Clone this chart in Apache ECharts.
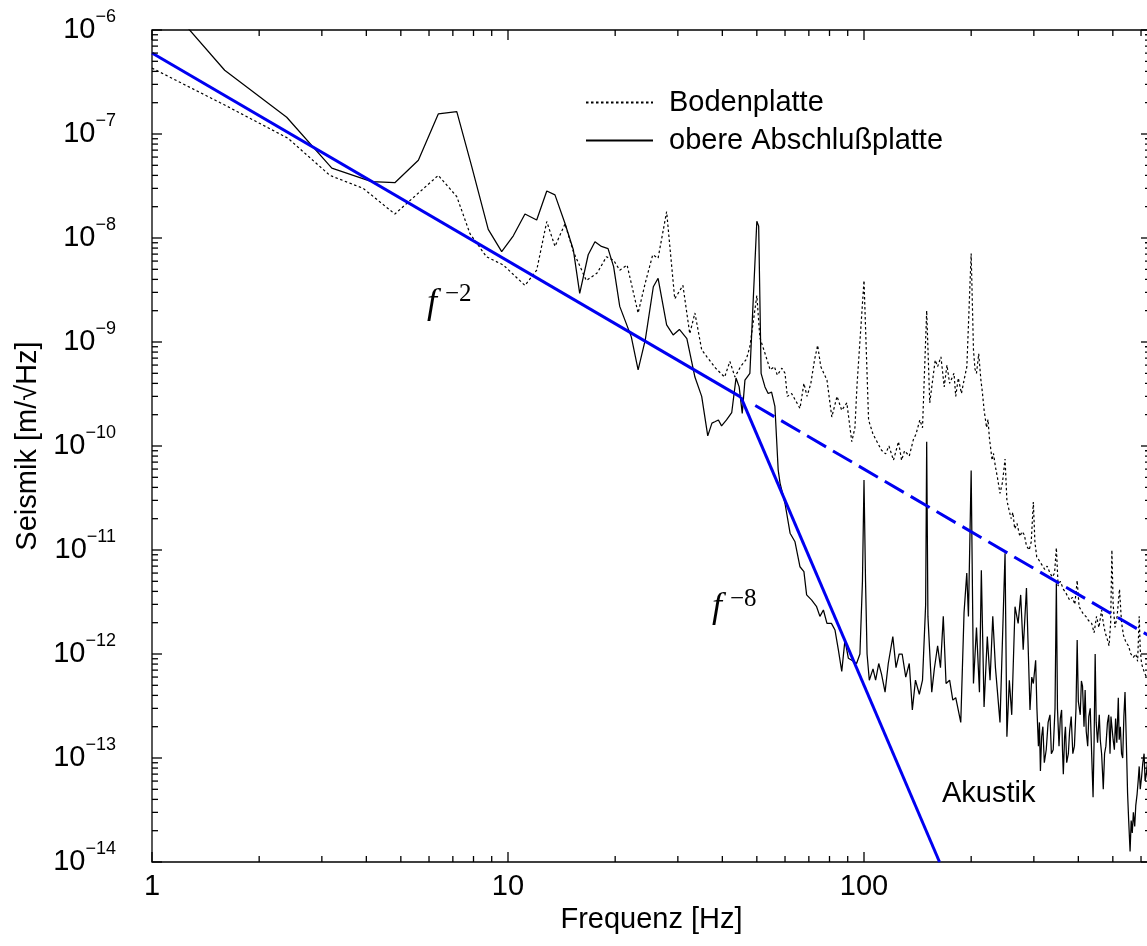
<!DOCTYPE html>
<html>
<head>
<meta charset="utf-8">
<script src="https://cdn.jsdelivr.net/npm/echarts@6/dist/echarts.min.js"></script>
<style>
  html, body { margin: 0; padding: 0; background: #fff; }
  #chart { width: 1147px; height: 946px; }
</style>
</head>
<body>
<div id="chart"></div>
<script>
// Seismic spectra: base plate (dotted) and upper end plate (solid), in m/sqrt(Hz)
const bodenFreq = [1.0, 1.6, 2.41, 3.16, 3.92, 4.81, 6.37, 7.18, 7.82, 8.7, 9.7, 11.16, 12.04, 12.85, 13.55, 14.46,
  15.26, 16.6, 17.8, 18.9, 19.8, 20.6, 21.6, 23.2, 24.3, 25.5, 26.4, 27.9, 29.4, 31.0, 32.4, 33.5, 35.0, 36.2,
  38.3, 40.6, 42.0, 43.4, 45.0, 46.7, 47.8, 50.0, 51.0, 52.7, 54.5, 56.0, 57.1, 58.8, 60.0, 60.9, 62.6, 66.1,
  67.8, 69.2, 70.9, 72.6, 74.1, 75.6, 78.7, 81.2, 84.0, 86.6, 89.5, 92.4, 94.3, 95.6, 100.0, 103.0, 106.0,
  112.0, 115.0, 117.5, 121.0, 125.0, 127.5, 130.0, 134.0, 137.6, 140.0, 143.5, 146.0, 150.0, 153.0, 158.5,
  161.0, 164.5, 168.0, 171.0, 174.0, 179.0, 181.0, 184.0, 187.8, 191.0, 194.5, 200.0, 203.0, 205.0, 207.0,
  210.0, 213.0, 215.0, 217.5, 221.0, 223.0, 225.0, 229.0, 231.0, 234.0, 237.0, 241.0, 245.0, 249.0, 252.0,
  255.0, 259.0, 262.0, 265.0, 269.0, 274.0, 278.0, 282.0, 286.0, 291.0, 295.0, 299.0, 302.0, 305.6, 310.0,
  316.0, 322.0, 327.0, 333.0, 338.0, 343.0, 347.0, 351.0, 356.0, 363.0, 370.0, 378.0, 385.0, 391.0, 397.0,
  402.0, 408.0, 414.0, 420.0, 427.0, 436.0, 443.0, 450.0, 457.0, 465.0, 470.0, 476.0, 482.0, 488.0, 493.0,
  497.0, 501.0, 507.0, 514.0, 522.0, 529.0, 536.0, 544.0, 553.0, 562.0, 571.0, 580.0, 587.0, 593.0, 597.0,
  602.0, 610.0, 621.0, 630.0, 640.0];
const bodenVal = [4.3e-7, 1.9e-7, 9.1e-8, 4.0e-8, 3.0e-8, 1.7e-8, 4.0e-8, 2.5e-8, 1.1e-8, 6.6e-9, 5.5e-9, 3.5e-9,
  4.9e-9, 1.44e-8, 8.3e-9, 1.37e-8, 7.4e-9, 3.9e-9, 4.6e-9, 6.6e-9, 6.1e-9, 4.9e-9, 5.5e-9, 1.9e-9, 3.7e-9,
  6.9e-9, 6.4e-9, 1.79e-8, 2.6e-9, 3.5e-9, 1.2e-9, 1.9e-9, 8.4e-10, 7.2e-10, 5.6e-10, 4.6e-10, 6.5e-10,
  4.6e-10, 5.8e-10, 6.8e-10, 9.0e-10, 2.8e-9, 1.1e-9, 7.8e-10, 5.4e-10, 5.8e-10, 4.8e-10, 5.6e-10, 5.0e-10,
  3.0e-10, 3.2e-10, 2.3e-10, 4.0e-10, 3.0e-10, 4.0e-10, 6.7e-10, 9.3e-10, 5.8e-10, 4.3e-10, 1.9e-10, 3.0e-10,
  2.2e-10, 2.6e-10, 1.1e-10, 1.5e-10, 3.9e-10, 3.9e-9, 1.78e-10, 1.3e-10, 9.1e-11, 8.4e-11, 1.0e-10, 7.3e-11,
  1.1e-10, 7.3e-11, 9.0e-11, 8.0e-11, 1.15e-10, 1.3e-10, 1.78e-10, 1.5e-10, 2.0e-9, 2.6e-10, 6.7e-10, 5.8e-10,
  7.2e-10, 3.7e-10, 6.0e-10, 4.0e-10, 5.0e-10, 3.0e-10, 4.5e-10, 3.2e-10, 4.3e-10, 5.8e-10, 7.1e-9, 8.4e-10,
  5.5e-10, 5.0e-10, 7.7e-10, 4.3e-10, 3.3e-10, 2.2e-10, 1.5e-10, 1.8e-10, 1.2e-10, 7.3e-11, 8.5e-11, 6.3e-11,
  5.0e-11, 3.5e-11, 4.5e-11, 7.5e-11, 3.0e-11, 2.5e-11, 2.0e-11, 2.3e-11, 1.6e-11, 1.8e-11, 1.35e-11, 1.5e-11,
  1.4e-11, 1.1e-11, 1.0e-11, 1.2e-11, 2.9e-11, 1.2e-11, 8.6e-12, 8.0e-12, 7.2e-12, 6.5e-12, 7.0e-12, 6.0e-12,
  5.5e-12, 6.0e-12, 1.05e-11, 4.5e-12, 5.0e-12, 4.2e-12, 3.8e-12, 3.3e-12, 3.5e-12, 3.0e-12, 5.1e-12, 2.85e-12,
  2.6e-12, 2.4e-12, 2.3e-12, 2.1e-12, 1.97e-12, 1.6e-12, 2.3e-12, 1.8e-12, 2.65e-12, 2.0e-12, 1.6e-12, 1.4e-12,
  1.2e-12, 2.0e-12, 1.0e-11, 3.0e-12, 1.8e-12, 2.3e-12, 4.2e-12, 2.0e-12, 1.5e-12, 1.3e-12, 1.2e-12, 1.0e-12,
  9.3e-13, 1.0e-12, 8.5e-13, 2.3e-12, 1.1e-12, 8.1e-13, 7.0e-13, 6.0e-13, 6.5e-13, 5.5e-13];

const obereFreq = [1.0, 1.6, 2.39, 3.2, 4.14, 4.81, 5.6, 6.37, 7.18, 7.91, 8.8, 9.6, 10.35, 11.16, 12.04, 12.85,
  13.55, 14.46, 15.26, 15.9, 16.8, 17.55, 18.3, 19.1, 19.8, 20.6, 22.2, 23.2, 24.3, 25.6, 26.4, 27.9, 29.1,
  30.3, 31.8, 33.5, 35.0, 36.4, 37.4, 38.1, 39.0, 39.8, 41.1, 42.5, 43.7, 44.6, 45.5, 46.3, 47.8, 50.0, 50.6,
  51.4, 52.7, 53.8, 55.0, 56.2, 57.4, 58.1, 60.0, 62.0, 64.0, 66.1, 67.8, 69.0, 71.3, 73.6, 75.2, 76.9, 78.7,
  81.0, 82.9, 84.7, 86.6, 88.4, 90.4, 92.4, 95.3, 97.4, 99.0, 100.0, 101.0, 102.0, 103.5, 106.0, 107.8, 110.0,
  112.0, 114.6, 117.0, 120.5, 123.0, 125.5, 128.0, 131.0, 134.0, 136.7, 139.5, 143.0, 146.0, 149.0, 150.0,
  151.2, 155.0, 157.6, 161.0, 164.0, 167.0, 170.0, 174.0, 177.6, 181.0, 187.0, 191.0, 194.4, 196.5, 200.0,
  203.0, 207.0, 211.0, 213.6, 217.4, 222.0, 226.0, 230.0, 234.0, 241.0, 249.0, 252.0, 256.0, 260.0, 265.6,
  271.0, 275.5, 280.0, 286.0, 292.6, 296.0, 299.0, 303.5, 306.0, 309.0, 311.0, 313.0, 315.5, 318.0, 321.0,
  325.0, 329.0, 333.0, 336.0, 340.0, 344.0, 347.0, 349.5, 353.0, 356.0, 359.0, 361.0, 363.0, 366.0, 368.0,
  371.0, 375.0, 378.0, 382.0, 386.0, 390.0, 394.0, 397.0, 400.0, 405.0, 408.0, 411.0, 415.0, 418.0, 421.0,
  425.0, 428.0, 432.0, 436.0, 440.0, 443.0, 446.0, 449.0, 453.0, 458.0, 461.0, 465.0, 468.0, 470.0, 474.0,
  478.0, 483.0, 487.0, 491.0, 494.0, 497.0, 501.0, 505.0, 509.0, 513.0, 518.0, 521.0, 525.0, 529.0, 533.0,
  537.0, 541.0, 546.0, 550.0, 554.0, 559.0, 563.0, 567.0, 571.0, 576.0, 580.0, 585.0, 589.0, 593.0, 597.0,
  602.0, 607.0, 612.0, 616.0, 621.0, 630.0, 640.0];
const obereVal = [2.6e-6, 4.1e-7, 1.45e-7, 4.7e-8, 3.48e-8, 3.4e-8, 5.6e-8, 1.56e-7, 1.64e-7, 4.86e-8, 1.21e-8,
  7.4e-9, 1.05e-8, 1.7e-8, 1.49e-8, 2.83e-8, 2.6e-8, 1.38e-8, 7.7e-9, 2.94e-9, 6.9e-9, 9.2e-9, 8.3e-9, 7.9e-9,
  5.3e-9, 2.2e-9, 1.12e-9, 5.4e-10, 1.05e-9, 3.4e-9, 4.1e-9, 1.46e-9, 1.17e-9, 1.32e-9, 1.08e-9, 4.6e-10,
  3.0e-10, 1.25e-10, 1.66e-10, 1.71e-10, 1.78e-10, 1.56e-10, 1.78e-10, 2.09e-10, 4.5e-10, 3.7e-10, 2.06e-10,
  4.3e-10, 5.0e-10, 1.45e-8, 1.3e-8, 5.0e-10, 3.7e-10, 3.2e-10, 3.3e-10, 2.4e-10, 5.9e-11, 4.4e-11, 2.8e-11,
  1.45e-11, 1.2e-11, 6.9e-12, 6.2e-12, 3.7e-12, 3.3e-12, 2.85e-12, 2.3e-12, 2.65e-12, 1.97e-12, 1.97e-12,
  1.7e-12, 1.1e-12, 6.8e-13, 1.36e-12, 9.1e-13, 8.7e-13, 8.1e-13, 1.0e-12, 5.0e-12, 4.7e-11, 5.0e-12, 1.0e-12,
  5.6e-13, 7.2e-13, 5.6e-13, 8.1e-13, 6.4e-13, 4.3e-13, 8.1e-13, 1.47e-12, 7.4e-13, 1.0e-12, 1.0e-12, 6.0e-13,
  8.1e-13, 2.9e-13, 5.6e-13, 4.1e-13, 5.6e-13, 3.0e-12, 1.1e-10, 2.3e-12, 4.3e-13, 7.2e-13, 1.2e-12, 7.4e-13,
  2.3e-12, 5.2e-13, 5.6e-13, 3.6e-13, 3.8e-13, 2.2e-13, 2.5e-12, 6.0e-12, 2.3e-12, 5.8e-11, 5.2e-13, 1.8e-12,
  4.3e-13, 6.4e-12, 3.1e-13, 1.47e-12, 5.6e-13, 2.3e-12, 7.4e-13, 2.2e-13, 9.3e-12, 1.6e-13, 5.6e-13, 2.6e-13,
  2.85e-12, 1.97e-12, 3.7e-12, 1.1e-12, 4.3e-12, 2.9e-13, 6.0e-13, 5.2e-13, 8.7e-13, 3.0e-13, 1.3e-13, 2.2e-13,
  7.5e-14, 1.6e-13, 2.0e-13, 9.0e-14, 1.2e-13, 2.2e-13, 2.6e-13, 1.1e-13, 1.2e-13, 3.0e-13, 4.8e-12, 3.0e-13,
  1.3e-13, 2.4e-13, 2.9e-13, 1.2e-13, 7.0e-14, 1.6e-13, 2.0e-13, 9.0e-14, 1.1e-13, 1.8e-13, 2.5e-13, 1.1e-13,
  1.3e-13, 3.0e-13, 1.36e-12, 3.5e-13, 2.6e-13, 5.5e-13, 4.9e-13, 2.0e-13, 4.5e-13, 1.8e-13, 1.3e-13, 2.5e-13,
  3.0e-13, 1.1e-13, 4.2e-14, 1.5e-13, 1.0e-12, 2.2e-13, 1.4e-13, 2.6e-13, 1.5e-13, 1.1e-13, 7.0e-14, 5.0e-14,
  1.1e-13, 1.3e-13, 2.2e-13, 2.6e-13, 1.1e-13, 2.5e-13, 2.6e-13, 1.5e-13, 1.2e-13, 2.4e-13, 1.4e-13, 3.8e-13,
  1.5e-13, 2.0e-13, 1.1e-13, 1.0e-13, 2.5e-13, 4.3e-13, 1.3e-13, 4.6e-14, 2.5e-14, 1.26e-14, 2.5e-14, 1.9e-14,
  3.0e-14, 2.2e-14, 3.5e-14, 4.5e-14, 6.0e-14, 8.3e-14, 5.0e-14, 6.5e-14, 9.0e-14, 1.1e-13, 6.0e-14, 7.0e-14,
  1.2e-13, 1.0e-13];

// Power-law guide lines: f^-2 below the knee, its dashed continuation, and the steep f^-8 branch
const guideLowFreq = [1.0, 45.1];
const guideLowVal = [6.0e-7, 2.95e-10];
const guideDashFreq = [49.5, 640.0];
const guideDashVal = [2.45e-10, 1.46e-12];
const guideSteepFreq = [45.1, 163.0];
const guideSteepVal = [2.95e-10, 1.0e-14];

// Axis ranges and tick layout
const xRange = [1, 640];
const yRange = [1e-14, 1e-6];
const xDecades = [1, 10, 100];
const yExponents = [-14, -13, -12, -11, -10, -9, -8, -7, -6];
const minorSteps = [2, 3, 4, 5, 6, 7, 8, 9];

const legendNames = ['Bodenplatte', 'obere Abschlußplatte'];
const xAxisTitle = 'Frequenz [Hz]';
const yAxisTitle = 'Seismik [m/√Hz]';
const annotations = [
  { base: 'f', exp: '−2', at: [5.92, 1.59e-9] },
  { base: 'f', exp: '−8', at: [37.4, 1.86e-12] }
];
const soundLabel = { text: 'Akustik', at: [165.6, 4.5e-14] };

const SANS = '"Liberation Sans", Arial, Helvetica, sans-serif';
const SERIF = '"Liberation Serif", "Times New Roman", serif';
const BLUE = '#0000f0';

const zip = (xs, ys) => xs.map((x, i) => [x, ys[i]]);

function buildTicks(decades, lo, hi) {
  const out = [];
  decades.forEach(d => {
    out.push({ v: d, major: 1 });
    minorSteps.forEach(s => out.push({ v: d * s, major: 0 }));
  });
  return out.filter(t => t.v >= lo * 0.999 && t.v <= hi * 1.001);
}
const xTicks = buildTicks(xDecades, xRange[0], xRange[1]);
const yTicks = buildTicks(yExponents.map(e => Math.pow(10, e)), yRange[0], yRange[1]);

const isDecade = v => Math.abs(Math.log10(v) - Math.round(Math.log10(v))) < 1e-6;

// Inward ticks on all four sides of the frame
function tickSeries(list, dir) {
  return {
    type: 'custom',
    silent: true,
    z: 10,
    clip: false,
    encode: { x: 0, y: 1 },
    data: list.map(t => dir === 'x' ? [t.v, yRange[0], t.major] : [xRange[0], t.v, t.major]),
    renderItem(params, api) {
      const len = api.value(2) ? 10 : 6;
      const style = { stroke: '#000', lineWidth: 1.3 };
      if (dir === 'x') {
        const f = api.value(0);
        const b = api.coord([f, yRange[0]]);
        const t = api.coord([f, yRange[1]]);
        return { type: 'group', children: [
          { type: 'line', shape: { x1: b[0], y1: b[1], x2: b[0], y2: b[1] - len }, style },
          { type: 'line', shape: { x1: t[0], y1: t[1], x2: t[0], y2: t[1] + len }, style }
        ] };
      }
      const v = api.value(1);
      const l = api.coord([xRange[0], v]);
      const r = api.coord([xRange[1], v]);
      return { type: 'group', children: [
        { type: 'line', shape: { x1: l[0], y1: l[1], x2: l[0] + len, y2: l[1] }, style },
        { type: 'line', shape: { x1: r[0], y1: r[1], x2: r[0] - len, y2: r[1] }, style }
      ] };
    }
  };
}

const chart = echarts.init(document.getElementById('chart'), null, { renderer: 'canvas' });

chart.setOption({
  animation: false,
  backgroundColor: '#fff',
  textStyle: { fontFamily: SANS },
  grid: {
    left: 152, top: 30, right: -4, bottom: 84,
    containLabel: false, outerBoundsMode: 'none',
    show: true, borderColor: '#000', borderWidth: 1.3, backgroundColor: 'transparent'
  },
  legend: {
    data: legendNames,
    orient: 'vertical',
    left: 585, top: 88, padding: 0,
    itemWidth: 67, itemHeight: 12, itemGap: 9,
    selectedMode: false,
    itemStyle: { opacity: 0 },
    textStyle: { fontFamily: SANS, fontSize: 29, color: '#000', lineHeight: 29, padding: [0, 0, 0, 11] }
  },
  xAxis: {
    type: 'log', logBase: 10, min: xRange[0], max: xRange[1], splitNumber: 3,
    axisLine: { show: false }, axisTick: { show: false }, splitLine: { show: false },
    axisLabel: {
      margin: 10, fontSize: 29, color: '#000', fontFamily: SANS,
      formatter: v => isDecade(v) ? String(Math.round(v)) : ''
    },
    name: xAxisTitle, nameLocation: 'middle', nameGap: 42,
    nameTextStyle: { fontSize: 29, color: '#000', fontFamily: SANS }
  },
  yAxis: {
    type: 'log', logBase: 10, min: yRange[0], max: yRange[1], splitNumber: 8,
    axisLine: { show: false }, axisTick: { show: false }, splitLine: { show: false },
    axisLabel: {
      margin: 36, color: '#000', fontFamily: SANS,
      formatter: v => {
        if (!isDecade(v)) return '';
        const e = Math.round(Math.log10(v));
        return '{b|10}{e|−' + (-e) + '}';
      },
      rich: {
        b: { fontSize: 29, lineHeight: 44, fontFamily: SANS, color: '#000' },
        e: { fontSize: 18, lineHeight: 18, verticalAlign: 'top', fontFamily: SANS, color: '#000' }
      }
    },
    name: yAxisTitle, nameLocation: 'middle', nameGap: 105,
    nameTextStyle: { fontSize: 29, color: '#000', fontFamily: SANS }
  },
  series: [
    {
      name: legendNames[0], type: 'line', data: zip(bodenFreq, bodenVal),
      symbol: 'none', showSymbol: false, z: 3, clip: true,
      itemStyle: { color: '#000' },
      lineStyle: { color: '#000', width: 1.2, type: [2.5, 2.5] }
    },
    {
      name: legendNames[1], type: 'line', data: zip(obereFreq, obereVal),
      symbol: 'none', showSymbol: false, z: 3, clip: true,
      itemStyle: { color: '#000' },
      lineStyle: { color: '#000', width: 1.25, type: 'solid' }
    },
    {
      name: 'f^-2', type: 'line', data: zip(guideLowFreq, guideLowVal),
      symbol: 'none', z: 4, clip: true, lineStyle: { color: BLUE, width: 3 }
    },
    {
      name: 'f^-2 dashed', type: 'line', data: zip(guideDashFreq, guideDashVal),
      symbol: 'none', z: 4, clip: true, lineStyle: { color: BLUE, width: 3, type: [22, 8] }
    },
    {
      name: 'f^-8', type: 'line', data: zip(guideSteepFreq, guideSteepVal),
      symbol: 'none', z: 4, clip: true, lineStyle: { color: BLUE, width: 3 }
    },
    tickSeries(xTicks, 'x'),
    tickSeries(yTicks, 'y')
  ]
});

// Slope annotations and the acoustic label, anchored in data coordinates
const graphics = annotations.map(a => {
  const p = chart.convertToPixel({ gridIndex: 0 }, a.at);
  return {
    type: 'group', x: p[0], y: p[1], silent: true,
    children: [
      { type: 'text', x: 0, y: 0, style: { text: a.base, font: 'italic 36px ' + SERIF, fill: '#000', verticalAlign: 'bottom', align: 'left' } },
      { type: 'text', x: 18, y: -14, style: { text: a.exp, font: '25px ' + SERIF, fill: '#000', verticalAlign: 'bottom', align: 'left' } }
    ]
  };
});
const sp = chart.convertToPixel({ gridIndex: 0 }, soundLabel.at);
graphics.push({
  type: 'text', x: sp[0], y: sp[1], silent: true,
  style: { text: soundLabel.text, font: '29px ' + SANS, fill: '#000', verticalAlign: 'middle', align: 'left' }
});
chart.setOption({ graphic: graphics });
</script>
</body>
</html>
